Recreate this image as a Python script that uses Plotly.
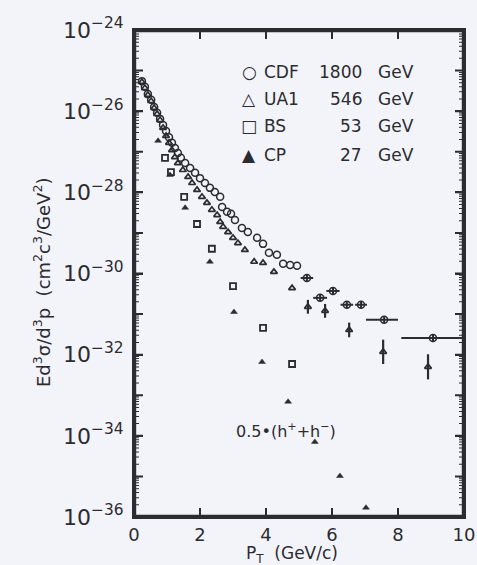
import numpy as np
import plotly.graph_objects as go

# ---------------- data (pT in GeV/c, cross section as log10 values) ----------------
cdf_pt = [0.24, 0.33, 0.42, 0.52, 0.61, 0.70, 0.79, 0.88, 0.97, 1.06, 1.15, 1.24, 1.33, 1.42,
          1.55, 1.70, 1.85, 2.00, 2.15, 2.30, 2.45, 2.61, 2.67, 2.82, 2.94, 3.06, 3.27, 3.45,
          3.73, 3.91, 4.09, 4.33, 4.52, 4.73, 4.94, 5.24, 5.64, 6.03, 6.45, 6.88, 7.58, 9.06]
cdf_log = [-25.26, -25.40, -25.58, -25.72, -25.90, -26.04, -26.19, -26.34, -26.49, -26.64,
           -26.78, -26.91, -27.03, -27.15, -27.28, -27.40, -27.52, -27.65, -27.77, -27.89,
           -27.99, -28.11, -28.36, -28.48, -28.53, -28.68, -28.88, -28.98, -29.12, -29.27,
           -29.49, -29.54, -29.76, -29.79, -29.81, -30.11, -30.60, -30.43, -30.77, -30.77,
           -31.14, -31.59]
cdf_xerr_minus = [0]*35 + [0.19, 0.21, 0.20, 0.19, 0.18, 0.55, 0.96]
cdf_xerr_plus = [0]*35 + [0.19, 0.21, 0.20, 0.19, 0.18, 0.42, 0.94]
cdf_yerr_dec = [0]*35 + [0.08, 0.08, 0.08, 0.08, 0.08, 0.08, 0.1]

ua1_pt = [0.24, 0.33, 0.42, 0.52, 0.61, 0.70, 0.79, 0.88, 0.97, 1.06, 1.15, 1.24, 1.33, 1.48,
          1.64, 1.76, 1.91, 2.06, 2.21, 2.36, 2.52, 2.61, 2.70, 2.85, 3.00, 3.15, 3.36, 3.64,
          3.91, 4.24, 4.79, 5.27, 5.79, 6.52, 7.55, 8.91]
ua1_log = [-25.28, -25.43, -25.60, -25.75, -25.92, -26.07, -26.22, -26.41, -26.61, -26.78,
           -26.96, -27.13, -27.28, -27.45, -27.62, -27.77, -27.94, -28.11, -28.26, -28.43,
           -28.56, -28.73, -28.85, -28.98, -29.12, -29.25, -29.42, -29.71, -29.74, -29.96,
           -30.36, -30.82, -30.92, -31.39, -31.93, -32.30]
ua1_yerr_dec = [0]*31 + [0.17, 0.17, 0.18, 0.30, 0.31]

bs_pt = [0.94, 1.12, 1.52, 1.91, 2.36, 3.00, 3.91, 4.79]
bs_log = [-27.15, -27.50, -28.11, -28.78, -29.39, -30.31, -31.34, -32.23]

cp_pt = [0.73, 1.09, 1.55, 2.30, 3.03, 3.88, 4.67, 5.48, 6.24, 7.03]
cp_log = [-26.73, -27.57, -28.38, -29.71, -30.95, -32.18, -33.16, -34.15, -34.99, -35.77]

legend_names = ["CDF", "UA1", "BS", "CP"]
legend_energies = ["1800", "546", "53", "27"]
legend_symbols = ["○", "△", "□", "▲"]

y_decades = list(range(-36, -23))
x_ticks = [0, 2, 4, 6, 8, 10]

# ---------------- styling ----------------
INK = "#2b2b30"
BG = "#f3f4fa"
FONT = "DejaVu Sans"

W, H = 477, 565
PL, PR, PT, PB = 134, 464, 30, 517  # plot box in page pixels
PW, PH = PR - PL, PB - PT
TICKLEN = 9
MINORLEN = 5
YMIN, YMAX = y_decades[0], y_decades[-1]
XMIN, XMAX = x_ticks[0], x_ticks[-1]
XPX = PW / (XMAX - XMIN)      # pixels per GeV
YPX = PH / (YMAX - YMIN)      # pixels per decade


def px2paper(px, py):
    return (px - PL) / PW, (PB - py) / PH


def asym_err(logs, dec):
    v = 10 ** np.array(logs)
    d = np.array(dec)
    return v, v * (10 ** d - 1), v * (1 - 10 ** (-d))


fig = go.Figure()

# ---------------- frame and ticks as thin filled bars (axis decoration) ----------------
rx, ry = [], []


def add_rect(x0, x1, l0, l1):
    """rectangle in (GeV, log10) units"""
    global rx, ry
    rx += [x0, x1, x1, x0, x0, None]
    ry += [10.0 ** l0, 10.0 ** l0, 10.0 ** l1, 10.0 ** l1, 10.0 ** l0, None]


bw = 2.2 / XPX   # frame thickness in GeV
bh = 2.2 / YPX   # frame thickness in decades
add_rect(XMIN, XMIN + bw, YMIN, YMAX)
add_rect(XMAX - bw, XMAX, YMIN, YMAX)
add_rect(XMIN, XMAX, YMIN, YMIN + bh)
add_rect(XMIN, XMAX, YMAX - bh, YMAX)

for d in y_decades[1:-1]:
    hw = 1.0 / YPX
    add_rect(XMIN, XMIN + TICKLEN / XPX, d - hw, d + hw)
    add_rect(XMAX - TICKLEN / XPX, XMAX, d - hw, d + hw)
for d in y_decades[:-1]:
    for m in range(2, 10):
        lv = d + np.log10(m)
        hw = 0.5 / YPX
        add_rect(XMIN, XMIN + MINORLEN / XPX, lv - hw, lv + hw)
        add_rect(XMAX - MINORLEN / XPX, XMAX, lv - hw, lv + hw)
for t in x_ticks[1:-1]:
    hw = 1.0 / XPX
    add_rect(t - hw, t + hw, YMIN, YMIN + TICKLEN / YPX)
    add_rect(t - hw, t + hw, YMAX - TICKLEN / YPX, YMAX)

fig.add_trace(go.Scatter(x=rx, y=ry, mode="lines", fill="toself", fillcolor=INK,
                         line=dict(width=0, color=INK), hoverinfo="skip", showlegend=False))

# ---------------- data traces ----------------
v, ep, em = asym_err(cdf_log, cdf_yerr_dec)
fig.add_trace(go.Scatter(
    x=cdf_pt, y=v, mode="markers",
    marker=dict(symbol="circle-open", size=7, color=INK, line=dict(width=1.5, color=INK)),
    error_x=dict(type="data", symmetric=False, array=cdf_xerr_plus, arrayminus=cdf_xerr_minus,
                 color=INK, thickness=2, width=0),
    error_y=dict(type="data", symmetric=False, array=ep, arrayminus=em,
                 color=INK, thickness=2, width=0),
))

v, ep, em = asym_err(ua1_log, ua1_yerr_dec)
fig.add_trace(go.Scatter(
    x=ua1_pt, y=v, mode="markers",
    marker=dict(symbol="triangle-up-open", size=6, color=INK, line=dict(width=1.7, color=INK)),
    error_y=dict(type="data", symmetric=False, array=ep, arrayminus=em,
                 color=INK, thickness=2.2, width=0),
))

fig.add_trace(go.Scatter(
    x=bs_pt, y=10 ** np.array(bs_log), mode="markers",
    marker=dict(symbol="square-open", size=6, color=INK, line=dict(width=1.8, color=INK)),
))

fig.add_trace(go.Scatter(
    x=cp_pt, y=10 ** np.array(cp_log), mode="markers",
    marker=dict(symbol="triangle-up", size=6, color=INK, line=dict(width=0.5, color=INK)),
))

# ---------------- axes ----------------
even_dec = [d for d in y_decades if d % 2 == 0]

fig.update_yaxes(
    type="log", range=[YMIN, YMAX],
    tickmode="array",
    tickvals=[10.0 ** d for d in even_dec],
    ticktext=["10<sup>−%d</sup>" % (-d) for d in even_dec],
    ticks="inside", ticklen=TICKLEN, tickwidth=2, tickcolor=INK,
    showline=True, linewidth=2, linecolor=INK, mirror="ticks",
    showgrid=False, zeroline=False,
    tickfont=dict(family=FONT, size=22, color=INK),
    ticklabelstandoff=4,
)
fig.update_xaxes(
    range=[XMIN, XMAX], tickmode="array", tickvals=x_ticks,
    ticktext=[str(t) for t in x_ticks],
    ticks="inside", ticklen=TICKLEN, tickwidth=2, tickcolor=INK,
    showline=True, linewidth=2, linecolor=INK, mirror="ticks",
    showgrid=False, zeroline=False,
    tickfont=dict(family=FONT, size=18, color=INK),
)

# ---------------- annotations ----------------
ann = []
xt, yt = px2paper(28, 283)
ann.append(dict(x=xt, y=yt, xref="paper", yref="paper", textangle=-90, showarrow=False,
                text="Ed<sup>3</sup>σ/d<sup>3</sup>p  (cm<sup>2</sup>c<sup>3</sup>/GeV<sup>2</sup>)",
                font=dict(family=FONT, size=18, color=INK)))
xt, yt = px2paper(292, 554)
ann.append(dict(x=xt, y=yt, xref="paper", yref="paper", showarrow=False, yanchor="middle",
                text="P<sub>T</sub>  (GeV/c)", font=dict(family=FONT, size=17, color=INK)))
xt, yt = px2paper(234, 443)
ann.append(dict(x=xt, y=yt, xref="paper", yref="paper", showarrow=False,
                text="0.5•(h<sup>+</sup>+h<sup>−</sup>)", font=dict(family=FONT, size=16, color=INK)))

rows_y = [60, 87, 114, 143]
for sym, name, en, ryy in zip(legend_symbols, legend_names, legend_energies, rows_y):
    xs_, ys_ = px2paper(249, ryy)
    ann.append(dict(x=xs_, y=ys_, xref="paper", yref="paper", showarrow=False, text=sym,
                    font=dict(family=FONT, size=17, color=INK)))
    xs_, ys_ = px2paper(262, ryy)
    ann.append(dict(x=xs_, y=ys_, xref="paper", yref="paper", showarrow=False, text=name,
                    xanchor="left", font=dict(family=FONT, size=17, color=INK)))
    xs_, ys_ = px2paper(364, ryy)
    ann.append(dict(x=xs_, y=ys_, xref="paper", yref="paper", showarrow=False, text=en,
                    xanchor="right", font=dict(family=FONT, size=17, color=INK)))
    xs_, ys_ = px2paper(376, ryy)
    ann.append(dict(x=xs_, y=ys_, xref="paper", yref="paper", showarrow=False, text="GeV",
                    xanchor="left", font=dict(family=FONT, size=17, color=INK)))

fig.update_layout(
    width=W, height=H,
    margin=dict(l=PL, r=W - PR, t=PT, b=H - PB, autoexpand=False),
    paper_bgcolor=BG, plot_bgcolor=BG,
    showlegend=False,
    annotations=ann,
)

fig.write_html(
    "out.html", config={"displayModeBar": False},
    post_script=("document.body.style.margin='0px';"
                 "document.body.style.overflow='hidden';"
                 "document.body.style.background='%s';" % BG),
)
